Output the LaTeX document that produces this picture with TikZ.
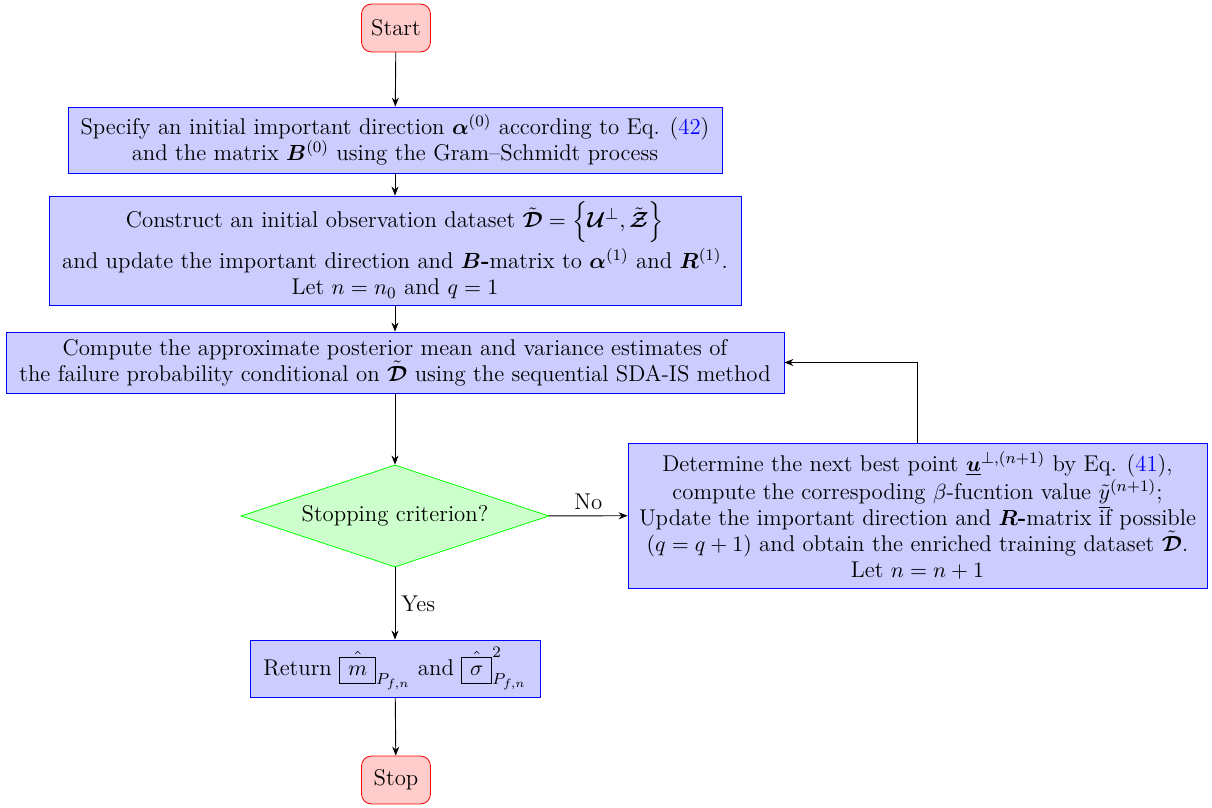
\documentclass[tikz,border=0pt]{standalone}
\usepackage{amsmath,amssymb,bm}
\usetikzlibrary{shapes.geometric,arrows.meta}
\tikzset{
  every node/.style={font=\fontsize{11.4}{13}\selectfont},
  term/.style={draw=red, fill=red!20, rounded corners=5pt, minimum width=34.5pt, minimum height=24pt, inner sep=3pt},
  procbox/.style={draw=blue, fill=blue!20, align=center, inner sep=2pt},
  decision/.style={draw=green, fill=green!20, shape=diamond, aspect=3, inner sep=0pt, minimum width=154pt, minimum height=51pt},
  flow/.style={-{Stealth[length=4.5pt,width=3.5pt]}, line width=0.45pt},
  lbl/.style={inner sep=3pt}
}
\newcommand{\hatbox}[1]{\hat{\fboxsep=4pt\boxed{#1}}}
\begin{document}
\begin{tikzpicture}[x=1pt,y=1pt]
  \useasboundingbox (0,0) rectangle (606,-404);

  \node[term] (start) at (198,-14) {Start};

  \node[procbox, minimum width=327pt, minimum height=33pt] (init) at (197.5,-70)
    {Specify an initial important direction $\bm{\alpha}^{(0)}$ according to Eq. (\textcolor{blue}{42})\\
     and the matrix $\bm{B}^{(0)}$ using the Gram--Schmidt process};

  \node[procbox, minimum width=346pt, minimum height=54.5pt] (data) at (197.5,-125.25)
    {Construct an initial observation dataset $\tilde{\bm{\mathcal{D}}}=\Big\{\bm{\mathcal{U}}^{\perp},\tilde{\bm{\mathcal{Z}}}\Big\}$\\[2pt]
     and update the important direction and $\bm{B}$\textbf{-}matrix to $\bm{\alpha}^{(1)}$ and $\bm{R}^{(1)}$.\\
     Let $n=n_0$ and $q=1$};

  \node[procbox, minimum width=389pt, minimum height=30.5pt] (post) at (197.5,-181.25)
    {Compute the approximate posterior mean and variance estimates of\\
     the failure probability conditional on $\tilde{\bm{\mathcal{D}}}$ using the sequential SDA-IS method};

  \node[decision] (stop?) at (197.5,-258) {Stopping criterion?};

  \node[procbox, minimum width=289.5pt, minimum height=72.5pt] (enrich) at (458.75,-257.75)
    {Determine the next best point $\underline{\bm{u}}^{\perp,(n+1)}$ by Eq. (\textcolor{blue}{41}),\\
     compute the correspoding $\beta$-fucntion value $\underline{\tilde{y}}^{(n+1)}$;\\
     Update the important direction and $\bm{R}$\textbf{-}matrix if possible\\
     $(q=q+1)$ and obtain the enriched training dataset $\tilde{\bm{\mathcal{D}}}$.\\
     Let $n=n+1$};

  \node[procbox, minimum width=145pt, minimum height=28.5pt] (ret) at (197.5,-334.25)
    {Return $\hatbox{m}_{P_{f,n}}$ and $\hatbox{\sigma}^{2}_{P_{f,n}}$};

  \node[term] (stop) at (198,-390) {Stop};

  \draw[flow] (start) -- (init);
  \draw[flow] (init) -- (data);
  \draw[flow] (data) -- (post);
  \draw[flow] (post) -- (stop?);
  \draw[flow] (stop?) -- node[lbl, above] {No} (enrich);
  \draw[flow] (stop?) -- node[lbl, right, pos=0.5] {Yes} (ret);
  \draw[flow] (ret) -- (stop);
  \draw[flow] (enrich.north) |- (post.east);
\end{tikzpicture}
\end{document}
